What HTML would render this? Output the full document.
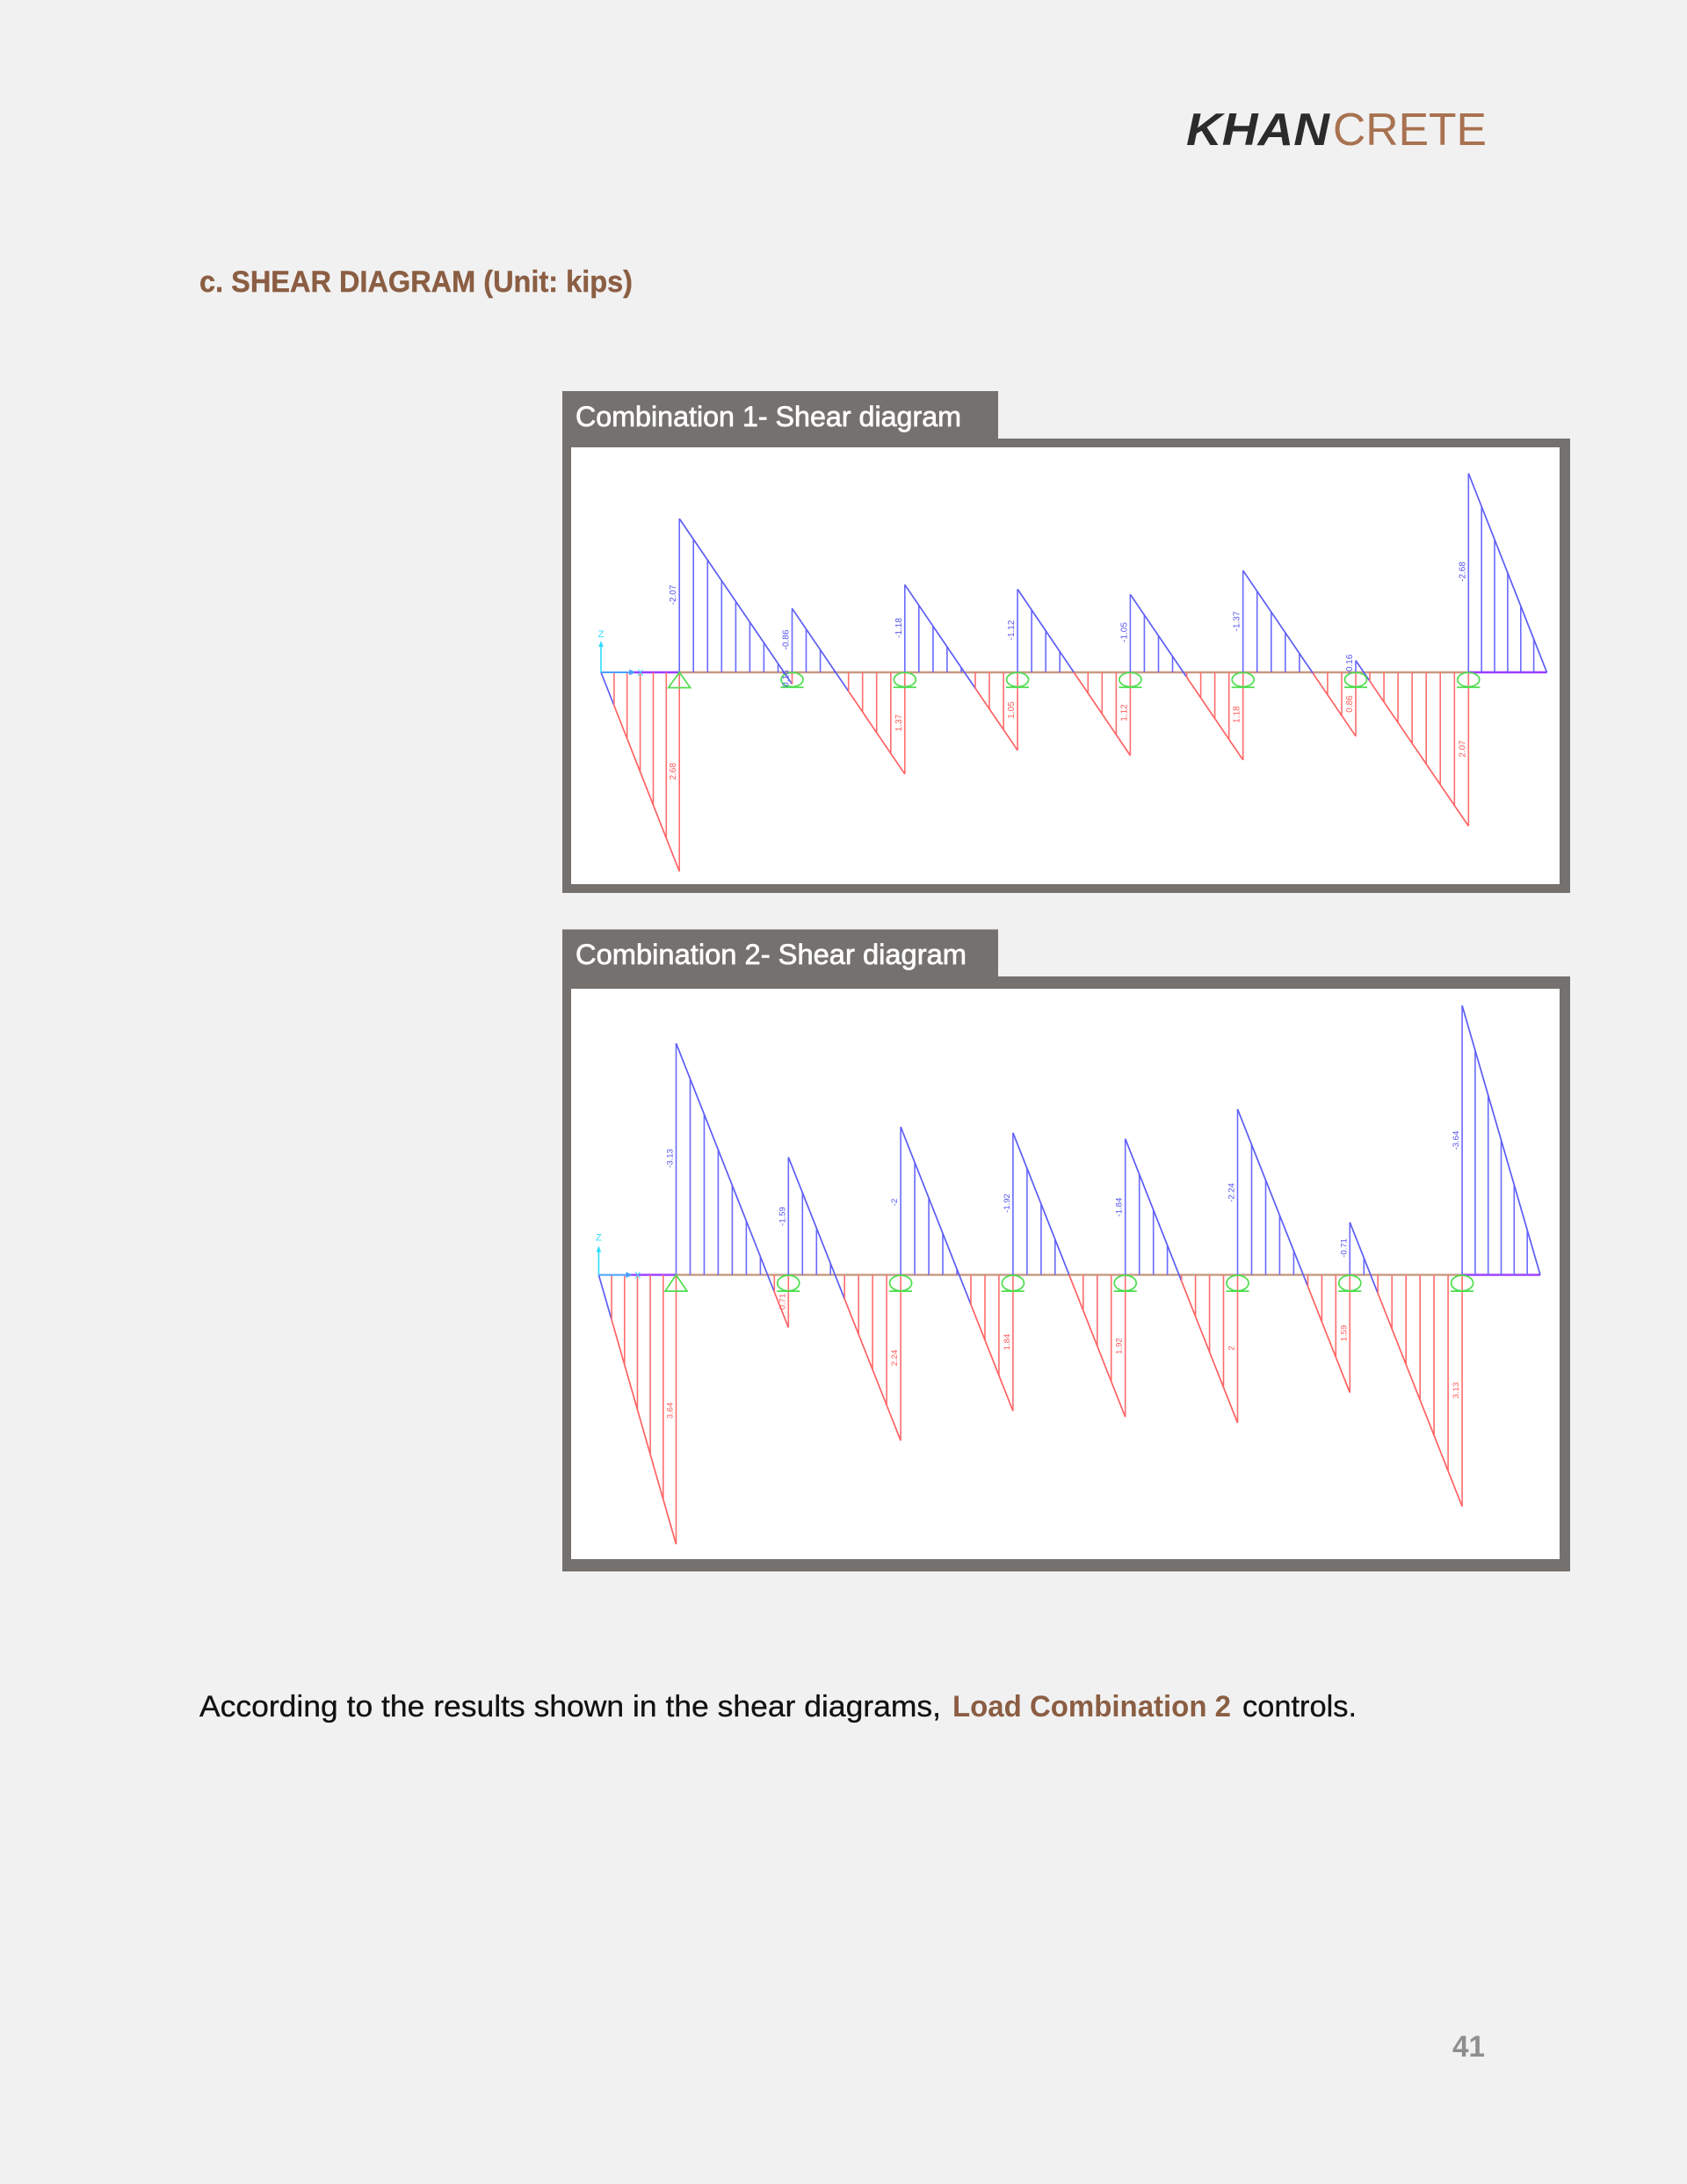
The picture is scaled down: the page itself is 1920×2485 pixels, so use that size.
<!DOCTYPE html>
<html><head><meta charset="utf-8"><style>
html,body{margin:0;padding:0;background:#f1f1f1;}
svg{display:block;}
</style></head><body>
<svg width="1920" height="2485" viewBox="0 0 1920 2485" xmlns="http://www.w3.org/2000/svg" font-family="'Liberation Sans', sans-serif">
<rect width="1920" height="2485" fill="#f1f1f1"/>

<!-- Header logo -->
<text x="1350" y="165" font-size="52" font-weight="bold" font-style="italic" fill="#2b2b2b" textLength="163" lengthAdjust="spacingAndGlyphs">KHAN</text>
<text x="1517" y="165" font-size="52" fill="#a87250" textLength="175" lengthAdjust="spacingAndGlyphs">CRETE</text>

<!-- Heading -->
<text x="227" y="332" font-size="34" font-weight="bold" fill="#8b5e43" stroke="#8b5e43" stroke-width="0.4" textLength="493" lengthAdjust="spacingAndGlyphs">c. SHEAR DIAGRAM (Unit: kips)</text>

<!-- ===== Frame 1 ===== -->
<rect x="640" y="445" width="496" height="56" fill="#75716f"/>
<rect x="640" y="499" width="1147" height="517" fill="#75716f"/>
<rect x="650" y="509" width="1125" height="497" fill="#ffffff"/>
<text x="655" y="485" font-size="32.5" fill="#ffffff" stroke="#ffffff" stroke-width="0.7" textLength="439" lengthAdjust="spacingAndGlyphs">Combination 1- Shear diagram</text>

<g transform="translate(773.2,765)" fill="none" stroke-linecap="butt">
  <path d="M0 0H898.1" stroke="#c89a82" stroke-width="2.4"/>
  <path d="M-53.5 0H0M898.1 0H987.3" stroke="#9a3cff" stroke-width="2.4"/>
  <path stroke="#6a6aff" stroke-width="1.6" d="M0 0V-174.9M16 0V-151.35M32.1 0V-127.8M48.1 0V-104.25M64.2 0V-80.7M80.2 0V-57.15M96.2 0V-33.6M112.3 0V-10.05M128.3 0V-72.7M144.3 0V-49.1M160.4 0V-25.6M176.4 0V-2M256.6 0V-99.7M272.6 0V-76.2M288.7 0V-52.6M304.7 0V-29.1M320.8 0V-5.5M384.9 0V-94.6M400.9 0V-71M417 0V-47.3M433 0V-23.7M513.2 0V-88.7M529.2 0V-65.2M545.3 0V-41.6M561.3 0V-18.1M641.5 0V-115.8M657.5 0V-92.2M673.6 0V-68.7M689.6 0V-45.1M705.7 0V-21.5M769.8 0V-13.5M898.1 0V-226.5M913 0V-188.75M927.8 0V-151M942.7 0V-113.25M957.6 0V-75.5M972.4 0V-37.75"/>
  <path stroke="#5c5cf5" stroke-width="1.7" d="M-89.2 0L-74.3 37.75M0 -174.9L128.3 13.5M128.3 -72.7L192.5 21.5M256.6 -99.7L336.8 18.1M384.9 -94.6L449 0M513.2 -88.7L577.4 5.5M641.5 -115.8L721.7 2M769.8 -13.5L785.8 10.05M898.1 -226.5L987.3 0"/>
  <path stroke="#ff6e6e" stroke-width="1.6" d="M-74.3 0V37.75M-59.5 0V75.5M-44.6 0V113.25M-29.7 0V151M-14.9 0V188.75M0 0V226.5M128.3 0V13.5M192.5 0V21.5M208.5 0V45.1M224.5 0V68.7M240.6 0V92.2M256.6 0V115.8M336.8 0V18.1M352.8 0V41.6M368.9 0V65.2M384.9 0V88.7M465.1 0V23.7M481.1 0V47.3M497.2 0V71M513.2 0V94.6M577.4 0V5.5M593.4 0V29.1M609.4 0V52.6M625.5 0V76.2M641.5 0V99.7M721.7 0V2M737.7 0V25.6M753.8 0V49.1M769.8 0V72.7M785.8 0V10.05M801.9 0V33.6M817.9 0V57.15M834 0V80.7M850 0V104.25M866 0V127.8M882.1 0V151.35M898.1 0V174.9"/>
  <path stroke="#ff6262" stroke-width="1.7" d="M-74.3 37.75L0 226.5M192.5 21.5L256.6 115.8M336.8 18.1L384.9 88.7M449 0L513.2 94.6M577.4 5.5L641.5 99.7M721.7 2L769.8 72.7M785.8 10.05L898.1 174.9"/>
  <path d="M-89.2 0H-56" stroke="#4aa0ff" stroke-width="2"/>
  <polygon points="-57,-3.5 -50,0 -57,3.5" fill="#4aa0ff"/>
  <path d="M-89.2 0V-30" stroke="#30dcff" stroke-width="1.6"/>
  <polygon points="-92,-29 -89.2,-36 -86.4,-29" fill="#30dcff"/>
  <text x="-89.2" y="-40" font-size="11" fill="#30dcff" stroke="none" text-anchor="middle">Z</text>
  <text x="-44.4" y="4" font-size="11" fill="#30dcff" stroke="none" text-anchor="middle">X</text>
  <g stroke="#4ddd4d" stroke-width="1.7">
    <path d="M0 0L-12.5 17.5H12.5Z"/>
    <ellipse cx="128.3" cy="8.3" rx="12.5" ry="8"/><path d="M115.3 17H141.3"/>
    <ellipse cx="256.6" cy="8.3" rx="12.5" ry="8"/><path d="M243.6 17H269.6"/>
    <ellipse cx="384.9" cy="8.3" rx="12.5" ry="8"/><path d="M371.9 17H397.9"/>
    <ellipse cx="513.2" cy="8.3" rx="12.5" ry="8"/><path d="M500.2 17H526.2"/>
    <ellipse cx="641.5" cy="8.3" rx="12.5" ry="8"/><path d="M628.5 17H654.5"/>
    <ellipse cx="769.8" cy="8.3" rx="12.5" ry="8"/><path d="M756.8 17H782.8"/>
    <ellipse cx="898.1" cy="8.3" rx="12.5" ry="8"/><path d="M885.1 17H911.1"/>
  </g>
  <g font-size="10" stroke="none" text-anchor="middle">
    <text fill="#5555ee" transform="translate(-4,-88) rotate(-90)">-2.07</text>
    <text fill="#ff5a5a" transform="translate(-4,112.7) rotate(-90)">2.68</text>
    <text fill="#5555ee" transform="translate(124.3,-37) rotate(-90)">-0.86</text>
    <text fill="#5555ee" transform="translate(124.3,7) rotate(-90)">0.16</text>
    <text fill="#5555ee" transform="translate(252.6,-50.5) rotate(-90)">-1.18</text>
    <text fill="#ff5a5a" transform="translate(252.6,57.5) rotate(-90)">1.37</text>
    <text fill="#5555ee" transform="translate(380.9,-48) rotate(-90)">-1.12</text>
    <text fill="#ff5a5a" transform="translate(380.9,43) rotate(-90)">1.05</text>
    <text fill="#5555ee" transform="translate(509.2,-45.5) rotate(-90)">-1.05</text>
    <text fill="#ff5a5a" transform="translate(509.2,46) rotate(-90)">1.12</text>
    <text fill="#5555ee" transform="translate(637.5,-58) rotate(-90)">-1.37</text>
    <text fill="#ff5a5a" transform="translate(637.5,48) rotate(-90)">1.18</text>
    <text fill="#5555ee" transform="translate(765.8,-9) rotate(-90)">-0.16</text>
    <text fill="#ff5a5a" transform="translate(765.8,36) rotate(-90)">0.86</text>
    <text fill="#5555ee" transform="translate(894.1,-114.5) rotate(-90)">-2.68</text>
    <text fill="#ff5a5a" transform="translate(894.1,87) rotate(-90)">2.07</text>
  </g>
</g>

<!-- ===== Frame 2 ===== -->
<rect x="640" y="1057.5" width="496" height="56" fill="#75716f"/>
<rect x="640" y="1111" width="1147" height="677" fill="#75716f"/>
<rect x="650" y="1125" width="1125" height="649" fill="#ffffff"/>
<text x="655" y="1097" font-size="32.5" fill="#ffffff" stroke="#ffffff" stroke-width="0.7" textLength="445" lengthAdjust="spacingAndGlyphs">Combination 2- Shear diagram</text>

<g transform="translate(769.5,1450.6)" fill="none" stroke-linecap="butt">
  <path d="M0 0H894.6" stroke="#c89a82" stroke-width="2.4"/>
  <path d="M-53.7 0H0M894.6 0H983.5" stroke="#9a3cff" stroke-width="2.4"/>
  <path stroke="#6a6aff" stroke-width="1.6" d="M0 0V-263.5M16 0V-223.1M31.95 0V-182.7M47.9 0V-142.3M63.9 0V-101.9M79.9 0V-61.4M95.9 0V-21M127.8 0V-133.9M143.8 0V-93.6M159.8 0V-53.3M175.7 0V-13M255.6 0V-168.4M271.6 0V-128M287.6 0V-87.6M303.5 0V-47.2M319.5 0V-6.8M383.4 0V-161.7M399.4 0V-121.3M415.4 0V-80.9M431.3 0V-40.4M511.2 0V-154.9M527.2 0V-114.5M543.2 0V-74.1M559.1 0V-33.7M639 0V-188.6M655 0V-148.3M671 0V-108M686.9 0V-67.7M702.9 0V-27.3M766.8 0V-59.8M782.8 0V-19.4M894.6 0V-306.5M909.4 0V-255.4M924.2 0V-204.3M939 0V-153.25M953.8 0V-102.2M968.7 0V-51.1"/>
  <path stroke="#5c5cf5" stroke-width="1.7" d="M-88.1 0L-73.4 51.1M0 -263.5L111.8 19.4M127.8 -133.9L191.7 27.3M255.6 -168.4L335.5 33.7M383.4 -161.7L447.3 0M511.2 -154.9L575.1 6.8M639 -188.6L718.9 13M766.8 -59.8L798.7 21M894.6 -306.5L983.5 0"/>
  <path stroke="#ff6e6e" stroke-width="1.6" d="M-73.4 0V51.1M-58.7 0V102.2M-44.05 0V153.25M-29.4 0V204.3M-14.7 0V255.4M0 0V306.5M111.8 0V19.4M127.8 0V59.8M191.7 0V27.3M207.7 0V67.7M223.6 0V108M239.6 0V148.3M255.6 0V188.6M335.5 0V33.7M351.5 0V74.1M367.4 0V114.5M383.4 0V154.9M463.3 0V40.4M479.3 0V80.9M495.2 0V121.3M511.2 0V161.7M575.1 0V6.8M591.1 0V47.2M607.1 0V87.6M623 0V128M639 0V168.4M718.9 0V13M734.9 0V53.3M750.8 0V93.6M766.8 0V133.9M798.7 0V21M814.7 0V61.4M830.7 0V101.9M846.7 0V142.3M862.6 0V182.7M878.6 0V223.1M894.6 0V263.5"/>
  <path stroke="#ff6262" stroke-width="1.7" d="M-73.4 51.1L0 306.5M111.8 19.4L127.8 59.8M191.7 27.3L255.6 188.6M335.5 33.7L383.4 154.9M447.3 0L511.2 161.7M575.1 6.8L639 168.4M718.9 13L766.8 133.9M798.7 21L894.6 263.5"/>
  <path d="M-88.1 0H-56" stroke="#4aa0ff" stroke-width="2"/>
  <polygon points="-57,-3.5 -50,0 -57,3.5" fill="#4aa0ff"/>
  <path d="M-88.1 0V-27" stroke="#30dcff" stroke-width="1.6"/>
  <polygon points="-90.9,-26 -88.1,-33 -85.3,-26" fill="#30dcff"/>
  <text x="-88.1" y="-39" font-size="11" fill="#30dcff" stroke="none" text-anchor="middle">Z</text>
  <text x="-43.7" y="4" font-size="11" fill="#30dcff" stroke="none" text-anchor="middle">X</text>
  <g stroke="#4ddd4d" stroke-width="1.7">
    <path d="M0 0L-12.5 18.5H12.5Z"/>
    <ellipse cx="127.8" cy="9.3" rx="12.5" ry="8.8"/><path d="M114.8 18.5H140.8"/>
    <ellipse cx="255.6" cy="9.3" rx="12.5" ry="8.8"/><path d="M242.6 18.5H268.6"/>
    <ellipse cx="383.4" cy="9.3" rx="12.5" ry="8.8"/><path d="M370.4 18.5H396.4"/>
    <ellipse cx="511.2" cy="9.3" rx="12.5" ry="8.8"/><path d="M498.2 18.5H524.2"/>
    <ellipse cx="639" cy="9.3" rx="12.5" ry="8.8"/><path d="M626 18.5H652"/>
    <ellipse cx="766.8" cy="9.3" rx="12.5" ry="8.8"/><path d="M753.8 18.5H779.8"/>
    <ellipse cx="894.6" cy="9.3" rx="12.5" ry="8.8"/><path d="M881.6 18.5H907.6"/>
  </g>
  <g font-size="9.5" stroke="none" text-anchor="middle">
    <text fill="#5555ee" transform="translate(-4,-132.6) rotate(-90)">-3.13</text>
    <text fill="#ff5a5a" transform="translate(-4,154.4) rotate(-90)">3.64</text>
    <text fill="#5555ee" transform="translate(123.8,-66.6) rotate(-90)">-1.59</text>
    <text fill="#ff5a5a" transform="translate(123.8,30.4) rotate(-90)">0.71</text>
    <text fill="#5555ee" transform="translate(251.6,-82.6) rotate(-90)">-2</text>
    <text fill="#ff5a5a" transform="translate(251.6,94.4) rotate(-90)">2.24</text>
    <text fill="#5555ee" transform="translate(379.4,-81.6) rotate(-90)">-1.92</text>
    <text fill="#ff5a5a" transform="translate(379.4,76.4) rotate(-90)">1.84</text>
    <text fill="#5555ee" transform="translate(507.2,-77) rotate(-90)">-1.84</text>
    <text fill="#ff5a5a" transform="translate(507.2,81) rotate(-90)">1.92</text>
    <text fill="#5555ee" transform="translate(635,-93.6) rotate(-90)">-2.24</text>
    <text fill="#ff5a5a" transform="translate(635,83.4) rotate(-90)">2</text>
    <text fill="#5555ee" transform="translate(762.8,-30.6) rotate(-90)">-0.71</text>
    <text fill="#ff5a5a" transform="translate(762.8,66.4) rotate(-90)">1.59</text>
    <text fill="#5555ee" transform="translate(890.6,-153) rotate(-90)">-3.64</text>
    <text fill="#ff5a5a" transform="translate(890.6,131.4) rotate(-90)">3.13</text>
  </g>
</g>

<!-- Paragraph -->
<text x="227" y="1953" font-size="34" fill="#111111" stroke="#111111" stroke-width="0.3" textLength="844" lengthAdjust="spacingAndGlyphs">According to the results shown in the shear diagrams,</text>
<text x="1084" y="1953" font-size="34" font-weight="bold" fill="#8b5e43" textLength="317" lengthAdjust="spacingAndGlyphs">Load Combination 2</text>
<text x="1414" y="1953" font-size="34" fill="#111111" stroke="#111111" stroke-width="0.3" textLength="130" lengthAdjust="spacingAndGlyphs">controls.</text>

<!-- Page number -->
<text x="1653" y="2340" font-size="34" font-weight="bold" fill="#8e8e8e" textLength="37" lengthAdjust="spacingAndGlyphs">41</text>
</svg>
</body></html>
